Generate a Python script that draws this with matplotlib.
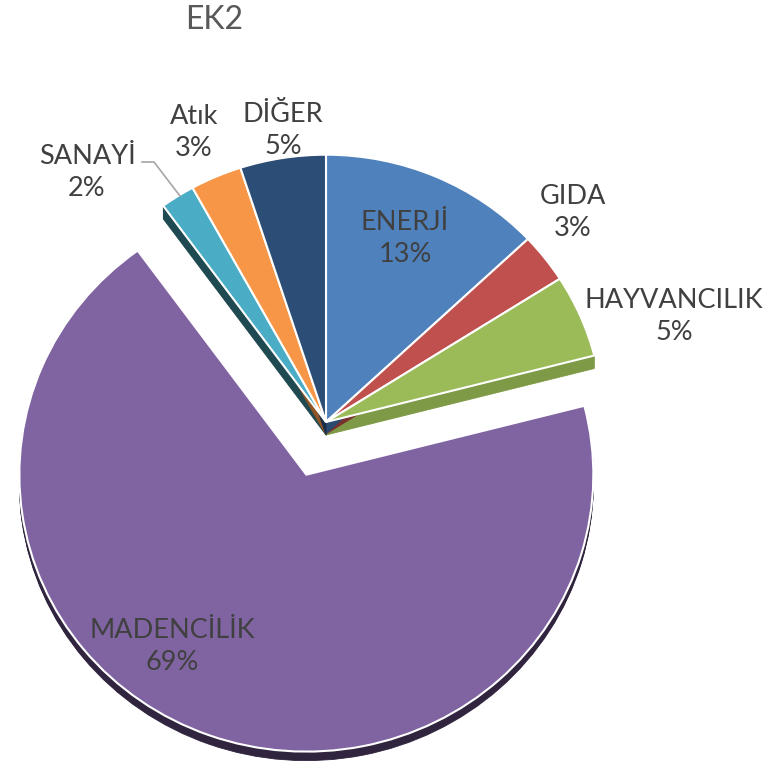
import numpy as np
import matplotlib
matplotlib.use("Agg")
import matplotlib.pyplot as plt

# ---- data ----
categories = ["ENERJİ", "GIDA", "HAYVANCILIK", "MADENCİLİK", "SANAYİ", "Atık", "DİĞER"]
values = [13, 3, 5, 69, 2, 3, 5]
pct_labels = ["13%", "3%", "5%", "69%", "2%", "3%", "5%"]
title = "EK2"

# ---- style ----
colors = ["#4F81BD", "#C0504D", "#9BBB59", "#8064A2", "#4BACC6", "#F79646", "#2C4D75"]
side_colors = ["#2A4A70", "#7A302E", "#7E9A46", "#30243F", "#1F4A52", "#8F5526", "#1A2E48"]

W, H = 773, 766
S = 0.965  # vertical squash (tilted view)

def to_data(x_img, y_img):
    return x_img, (H - y_img) / S

fig = plt.figure(figsize=(W / 100, H / 100), dpi=100)
ax = fig.add_axes([0, 0, 1, 1])

cx, cy = to_data(326, 422)
R = 277
R_big = 287
explode = [0, 0, 0, 58, 0, 0, 0]
depth_small = 13
depth_big = 9

# side (depth) faces: stacked darker copies shifted downward
for d in np.arange(1, depth_small + 1, 1.0):
    ws, _ = ax.pie(values, colors=side_colors, startangle=90, counterclock=False,
                   center=(cx, cy - d / S), radius=R, explode=explode,
                   wedgeprops=dict(linewidth=0.6, edgecolor="none"))
    ws[3].set_radius(R_big)
    if d > depth_big:
        ws[3].set_visible(False)
    for w, c in zip(ws, side_colors):
        w.set_edgecolor(c)

# top faces
wedges, _ = ax.pie(values, colors=colors, startangle=90, counterclock=False,
                   center=(cx, cy), radius=R, explode=explode,
                   wedgeprops=dict(edgecolor="white", linewidth=1.5))
wedges[3].set_radius(R_big)

ax.set_aspect("auto")
ax.set_xlim(0, W)
ax.set_ylim(0, H / S)
ax.axis("off")

# ---- labels ----
label_pos = [(405, 238), (573, 212), (674, 316), (172, 647), (87, 172), (194, 133), (283, 131)]
for cat, pct, (lx, ly) in zip(categories, pct_labels, label_pos):
    fig.text(lx / W, 1 - ly / H, f"{cat}\n{pct}", ha="center", va="center",
             fontsize=19.5, color="#404040", family="Lato", linespacing=1.35)

# leader line for SANAYİ
lx, ly = zip(*[to_data(142, 162), to_data(154, 162), to_data(180, 196)])
ax.plot(lx, ly, color="#A6A6A6", linewidth=1.2)

fig.text(214 / W, 1 - 20 / H, title, ha="center", va="center",
         fontsize=23, color="#595959", family="Lato")

fig.savefig("out.png", dpi=100)
